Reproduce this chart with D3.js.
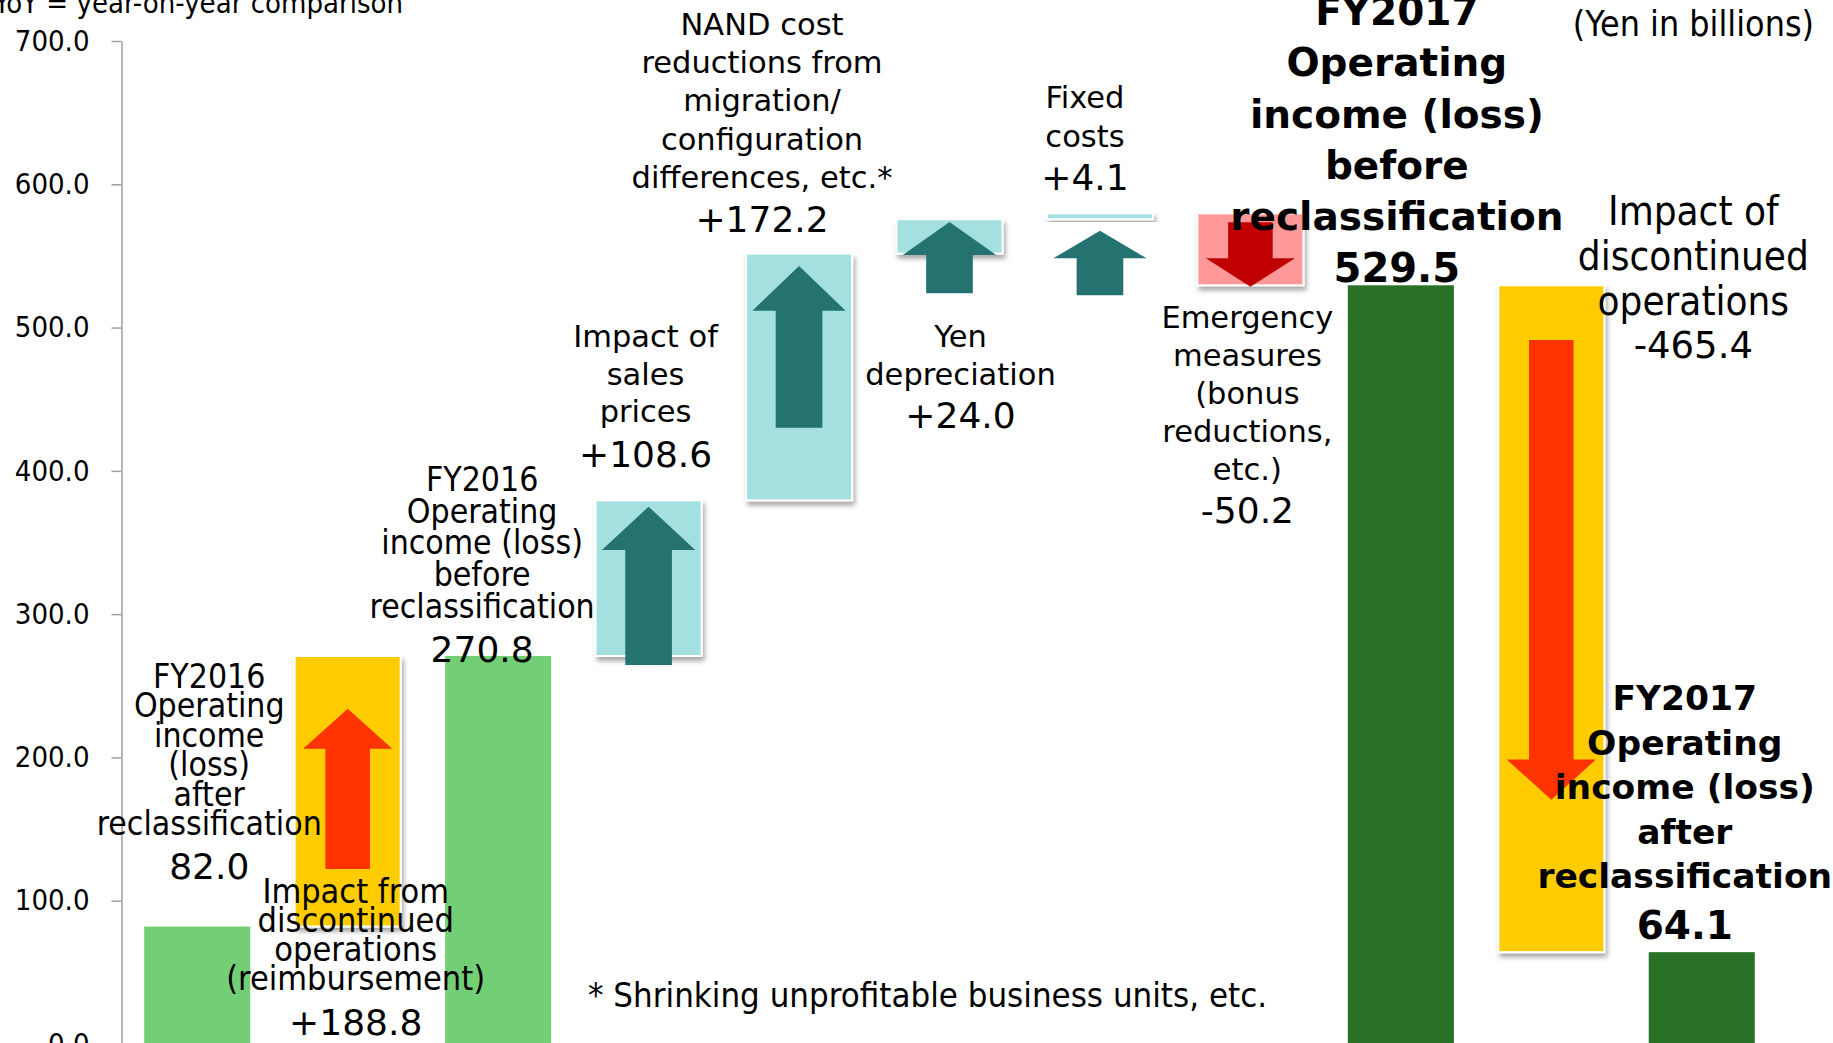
<!DOCTYPE html>
<html>
<head>
<meta charset="utf-8">
<script src="https://cdn.jsdelivr.net/npm/d3@7"></script>
<style>
	body { margin: 0; background: #fff; }
	svg { display: block; }
	.narrow { font-family: "DejaVu Sans Condensed", "DejaVu Sans", sans-serif; font-stretch: condensed; }
	.wide { font-family: "DejaVu Sans", sans-serif; }
	.bold { font-family: "DejaVu Sans", sans-serif; font-weight: bold; }
	.axis text { font-family: "DejaVu Sans Condensed", "DejaVu Sans", sans-serif; font-stretch: condensed; font-size: 29px; fill: #000; }
	.axis path, .axis line { stroke: #a0a0a0; stroke-width: 1.5; }
</style>
</head>
<body>
<div id="chart"></div>
<script>
// steps of the bridge, left to right
var steps = ["fy16After", "discImpact16", "fy16Before", "salesPrices", "nandCost",
	"yenDepreciation", "fixedCosts", "emergency", "fy17Before", "discImpact17", "fy17After"];
var kinds = ["total", "delta", "total", "delta", "delta", "delta", "delta", "delta", "total", "delta", "total"];
var values = [82.0, 188.8, 270.8, 108.6, 172.2, 24.0, 4.1, -50.2, 529.5, -465.4, 64.1];

// arrow drawn inside each change box (Yen in billions): tail, head base, tip
var arrowTail = [null, 122.2, null, 264.5, 430.0, 524.0, 522.6, 573.5, null, 491.3, null];
var arrowHead = [null, 206.0, null, 344.7, 511.8, 550.7, 548.3, 548.3, null, 198.5, null];
var arrowTip = [null, 234.0, null, 375.0, 543.0, 573.6, 567.6, 528.5, null, 170.5, null];

var labelLines = [
	["FY2016", "Operating", "income", "(loss)", "after", "reclassification"],
	["Impact from", "discontinued", "operations", "(reimbursement)"],
	["FY2016", "Operating", "income (loss)", "before", "reclassification"],
	["Impact of", "sales", "prices"],
	["NAND cost", "reductions from", "migration/", "configuration", "differences, etc.*"],
	["Yen", "depreciation"],
	["Fixed", "costs"],
	["Emergency", "measures", "(bonus", "reductions,", "etc.)"],
	["FY2017", "Operating", "income (loss)", "before", "reclassification"],
	["Impact of", "discontinued", "operations"],
	["FY2017", "Operating", "income (loss)", "after", "reclassification"]
];

var yTicks = [0, 100, 200, 300, 400, 500, 600, 700];

/*
	Layout of the annotation texts (pixels)
*/
var labelLayout = [
	{dx: 12, base: 879, gap: 44, lh: 29.4, cls: "narrow", size: 33.5, vcls: "wide", vsize: 36},
	{dx: 8, base: 1035, gap: 45, lh: 29, cls: "narrow", size: 34, vcls: "wide", vsize: 36},
	{dx: -16, base: 662, gap: 44, lh: 31.8, cls: "narrow", size: 33.5, vcls: "wide", vsize: 36},
	{dx: -3, base: 467, gap: 45, lh: 37.5, cls: "wide", size: 30.5, vcls: "wide", vsize: 36},
	{dx: -37, base: 232, gap: 44, lh: 38.3, cls: "wide", size: 30.5, vcls: "wide", vsize: 36},
	{dx: 11, base: 428, gap: 43, lh: 38, cls: "wide", size: 30.5, vcls: "wide", vsize: 36},
	{dx: -15, base: 190, gap: 43, lh: 39, cls: "wide", size: 30.5, vcls: "wide", vsize: 36},
	{dx: -3, base: 523, gap: 43, lh: 38, cls: "wide", size: 30.5, vcls: "wide", vsize: 36},
	{dx: -4, base: 282, gap: 52, lh: 51.2, cls: "bold", size: 39, vcls: "bold", vsize: 40},
	{dx: 142, base: 358, gap: 43, lh: 45, cls: "narrow", size: 40, vcls: "wide", vsize: 37},
	{dx: -17, base: 939, gap: 51, lh: 44.5, cls: "bold", size: 34.5, vcls: "bold", vsize: 39}
];

var width = 1833,
	height = 1043;

// running totals for the waterfall
var bars = [];
var running = 0;
steps.forEach(function(s, i) {
	var lo, hi;
	if (kinds[i] === "total") {
		lo = 0; hi = values[i]; running = values[i];
	} else {
		lo = running; hi = running + values[i]; running = hi;
	}
	bars.push({key: s, i: i, kind: kinds[i], value: values[i],
		y0: Math.min(lo, hi), y1: Math.max(lo, hi), up: values[i] >= 0});
});

var xScale = d3.scaleBand()
	.domain(steps)
	.range([122, 1777])
	.paddingInner(0.295)
	.paddingOuter(0.1475)
;

var yScale = d3.scaleLinear()
	.domain([0, 700])
	.range([1044, 41])
;

var svg = d3.select("#chart")
	.append("svg")
	.attr("width", width)
	.attr("height", height)
;

var defs = svg.append("defs");
defs.append("filter")
	.attr("id", "shadow")
	.attr("x", "-20%").attr("y", "-20%")
	.attr("width", "140%").attr("height", "160%")
	.append("feDropShadow")
	.attr("dx", 2)
	.attr("dy", 4)
	.attr("stdDeviation", 2.5)
	.attr("flood-color", "#000")
	.attr("flood-opacity", 0.35)
;

function barFill(d) {
	if (d.kind === "total") return d.i < 8 ? "#72cf76" : "#2a7128";
	if (d.key === "discImpact16" || d.key === "discImpact17") return "#ffcc00";
	return d.up ? "#a3e0df" : "#ff9999";
}

function arrowFill(d) {
	if (d.key === "discImpact16" || d.key === "discImpact17") return "#ff3300";
	return d.up ? "#247371" : "#c00000";
}

/*
	Axis
*/
svg.append("g")
	.attr("class", "axis")
	.attr("transform", "translate(121.5,0)")
	.call(d3.axisLeft(yScale)
		.tickValues(yTicks)
		.tickFormat(d3.format(".1f"))
		.tickSize(10)
		.tickSizeOuter(0)
		.tickPadding(22))
;

/*
	Bars and change boxes
*/
var bw = xScale.bandwidth();

svg.selectAll("rect.total")
	.data(bars.filter(function(d) { return d.kind === "total"; }))
	.enter()
	.append("rect")
	.attr("class", "total")
	.attr("x", function(d) { return xScale(d.key); })
	.attr("y", function(d) { return yScale(d.y1); })
	.attr("width", bw)
	.attr("height", function(d) { return yScale(d.y0) - yScale(d.y1); })
	.attr("fill", barFill)
;

svg.selectAll("rect.delta")
	.data(bars.filter(function(d) { return d.kind === "delta"; }))
	.enter()
	.append("rect")
	.attr("class", "delta")
	.attr("x", function(d) { return xScale(d.key); })
	.attr("y", function(d) { return yScale(d.y1); })
	.attr("width", bw)
	.attr("height", function(d) { return Math.max(3, yScale(d.y0) - yScale(d.y1)); })
	.attr("fill", barFill)
	.attr("stroke", "#fff")
	.attr("stroke-width", 2)
	.attr("filter", "url(#shadow)")
;

/*
	Block arrows
*/
svg.selectAll("path.arrow")
	.data(bars.filter(function(d) { return arrowTip[d.i] !== null; }))
	.enter()
	.append("path")
	.attr("class", "arrow")
	.attr("d", function(d) {
		var cx = xScale(d.key) + bw / 2;
		var teal = d.kind === "delta" && d.key !== "discImpact16" && d.key !== "discImpact17" && d.up;
		var hw = bw * (teal ? 0.88 : 0.84) / 2,
			sw = bw * (teal ? 0.44 : 0.42) / 2;
		var t = yScale(arrowTail[d.i]),
			h = yScale(arrowHead[d.i]),
			p = yScale(arrowTip[d.i]);
		return "M" + (cx - sw) + "," + t +
			"L" + (cx - sw) + "," + h +
			"L" + (cx - hw) + "," + h +
			"L" + cx + "," + p +
			"L" + (cx + hw) + "," + h +
			"L" + (cx + sw) + "," + h +
			"L" + (cx + sw) + "," + t + "Z";
	})
	.attr("fill", arrowFill)
;

/*
	Step labels
*/
function fmtValue(d) {
	if (d.kind === "total") return d.value.toFixed(1);
	return (d.value >= 0 ? "+" : "-") + Math.abs(d.value).toFixed(1);
}

var labels = svg.selectAll("g.label")
	.data(bars)
	.enter()
	.append("g")
	.attr("class", "label")
	.attr("text-anchor", "middle")
;

labels.each(function(d) {
	var g = d3.select(this);
	var lay = labelLayout[d.i];
	var cx = xScale(d.key) + bw / 2 + lay.dx;
	var lines = labelLines[d.i];
	lines.forEach(function(line, j) {
		g.append("text")
			.attr("class", lay.cls)
			.attr("x", cx)
			.attr("y", lay.base - lay.gap - (lines.length - 1 - j) * lay.lh)
			.style("font-size", lay.size + "px")
			.text(line)
		;
	});
	g.append("text")
		.attr("class", lay.vcls)
		.attr("x", cx)
		.attr("y", lay.base)
		.style("font-size", lay.vsize + "px")
		.text(fmtValue(d))
	;
});

/*
	Notes
*/
svg.append("text")
	.attr("class", "narrow")
	.attr("x", 403)
	.attr("y", 13)
	.attr("text-anchor", "end")
	.style("font-size", "29px")
	.text("YoY = year-on-year comparison")
;
svg.append("text")
	.attr("class", "narrow")
	.attr("x", 1814)
	.attr("y", 36)
	.attr("text-anchor", "end")
	.style("font-size", "35.5px")
	.text("(Yen in billions)")
;
svg.append("text")
	.attr("class", "narrow")
	.attr("x", 588)
	.attr("y", 1007)
	.style("font-size", "34.5px")
	.text("* Shrinking unprofitable business units, etc.")
;
</script>
</body>
</html>
